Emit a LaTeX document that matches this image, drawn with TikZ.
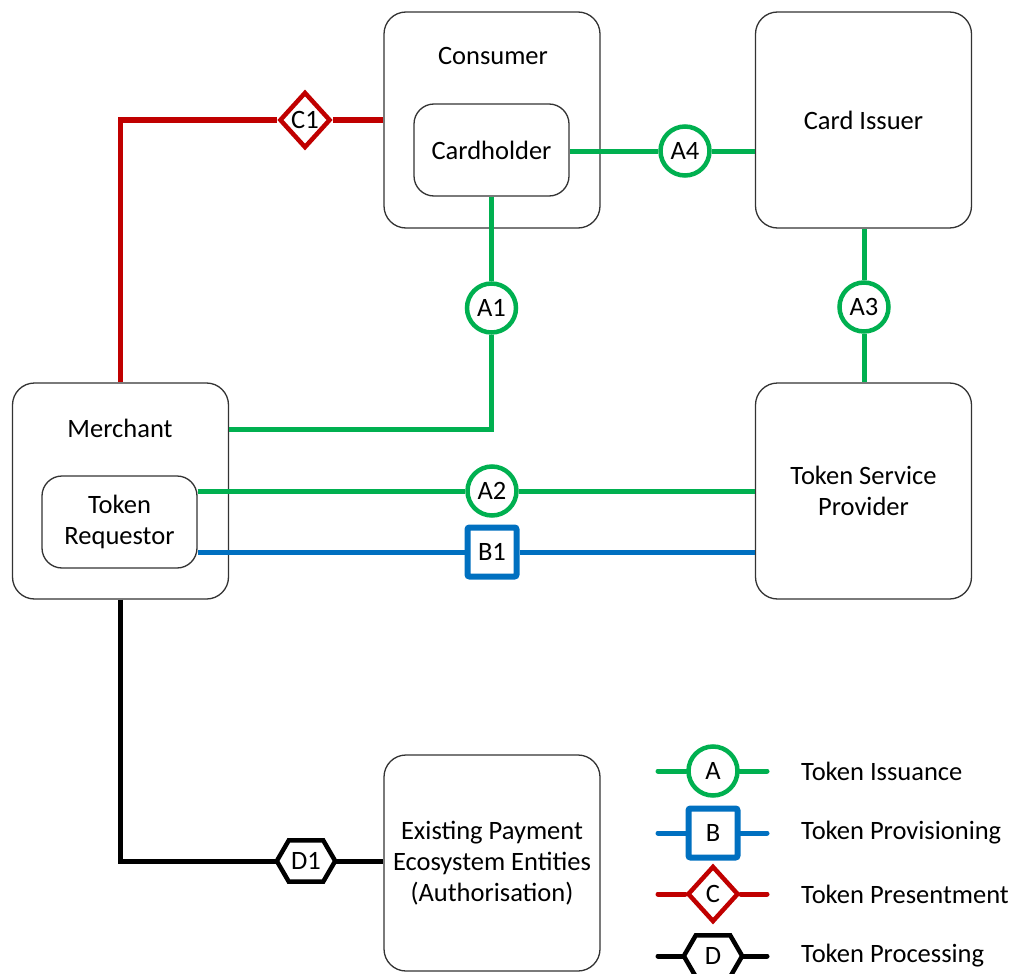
\documentclass[tikz,border=0pt]{standalone}
\usepackage{fontspec}
\setmainfont{Carlito}
\usetikzlibrary{shapes.geometric,calc}
\definecolor{tgreen}{HTML}{00B050}
\definecolor{tblue}{HTML}{0070C0}
\definecolor{tred}{HTML}{C00000}
\begin{document}
\begin{tikzpicture}[x=1pt,y=-1pt,
 font=\fontsize{26.5}{31}\selectfont,
 box/.style={draw=black!80,line width=1.3pt,rounded corners=22pt,fill=white,align=center,inner sep=0pt},
 big/.style={box,minimum width=216pt,minimum height=216pt},
 innerbox/.style={box,minimum width=155pt,minimum height=92pt,rounded corners=20pt},
 lbl/.style={inner sep=0pt,align=center},
 conn/.style={line width=5pt},
 leg/.style={line width=5pt,line cap=round},
 mcirc/.style={circle,draw=tgreen,line width=4.5pt,minimum size=49pt,inner sep=0pt,fill=white},
 msq/.style={rectangle,draw=tblue,line width=6pt,minimum size=49pt,inner sep=0pt,rounded corners=2pt,fill=white},
 mdia/.style={diamond,draw=tred,line width=4.5pt,minimum width=51pt,minimum height=56pt,inner sep=0pt,fill=white},
 mhex/.style={minimum width=58pt,minimum height=41pt,inner sep=0pt},
 hexline/.style={draw=black,line width=4.5pt,fill=white,line join=miter}
]
\useasboundingbox (0,0) rectangle (1013,974);

% boxes
\node[big] (consumer) at (492,120) {};
\node[lbl] (consumerlbl) at (493,56) {Consumer};
\node[innerbox] (cardholder) at (491.5,150) {Cardholder};
\node[big] (issuer) at (863.5,120) {Card Issuer};
\node[big] (merchant) at (120.5,491) {};
\node[lbl] (merchantlbl) at (120,428) {Merchant};
\node[innerbox] (requestor) at (119.5,522) {Token\\Requestor};
\node[big] (tsp) at (863.5,491) {Token Service\\Provider};
\node[big] (epe) at (492,863) {Existing Payment\\Ecosystem Entities\\(Authorisation)};

% markers
\node[mdia] (c1) at (305,120) {C1};
\node[mcirc] (a4) at (685,151) {A4};
\node[mcirc] (a1) at (491.5,308) {A1};
\node[mcirc] (a3) at (864,307) {A3};
\node[mcirc] (a2) at (492,491) {A2};
\node[msq] (b1) at (492,552) {B1};
\node[mhex] (d1) at (306,861) {};
\draw[hexline] (d1.west) -- ($(d1.north west)+(12,0)$) -- ($(d1.north east)+(-12,0)$) -- (d1.east) -- ($(d1.south east)+(-12,0)$) -- ($(d1.south west)+(12,0)$) -- cycle;
\node[lbl] (d1lbl) at (d1) {D1};

\coordinate (mA) at (0,429);

% connectors
\draw[conn,tred] (merchant.north) |- (c1.west);
\draw[conn,tred] (c1.east) -- (c1 -| consumer.west);
\draw[conn,tgreen] (cardholder.east |- a4) -- (a4.west);
\draw[conn,tgreen] (a4.east) -- (a4 -| issuer.west);
\draw[conn,tgreen] (cardholder.south) -- (a1.north);
\draw[conn,tgreen] (a1.south) |- (merchant.east |- mA);
\draw[conn,tgreen] (issuer.south -| a3) -- (a3.north);
\draw[conn,tgreen] (a3.south) -- (a3 |- tsp.north);
\draw[conn,tgreen] (requestor.east |- a2) -- (a2.west);
\draw[conn,tgreen] (a2.east) -- (a2 -| tsp.west);
\draw[conn,tblue] (requestor.east |- b1) -- (b1.west);
\draw[conn,tblue] (b1.east) -- (b1 -| tsp.west);
\draw[conn,black] (merchant.south) |- (d1.west);
\draw[conn,black] (d1.east) -- (d1 -| epe.west);

% legend
\coordinate (laL) at (658,771); \coordinate (laR) at (767,771);
\coordinate (lbL) at (658,833); \coordinate (lbR) at (767,833);
\coordinate (lcL) at (658,894); \coordinate (lcR) at (767,894);
\coordinate (ldL) at (658,956); \coordinate (ldR) at (767,956);
\node[mcirc] (la) at (713,771) {A};
\node[msq] (lb) at (713,833) {B};
\node[mdia] (lc) at (713,894) {C};
\node[mhex] (ld) at (713,956) {};
\draw[hexline] (ld.west) -- ($(ld.north west)+(12,0)$) -- ($(ld.north east)+(-12,0)$) -- (ld.east) -- ($(ld.south east)+(-12,0)$) -- ($(ld.south west)+(12,0)$) -- cycle;
\node[lbl] (ldlbl) at (ld) {D};
\draw[leg,tgreen] (laL) -- (la.west); \draw[leg,tgreen] (la.east) -- (laR);
\draw[leg,tblue] (lbL) -- (lb.west); \draw[leg,tblue] (lb.east) -- (lbR);
\draw[leg,tred] (lcL) -- (lc.west); \draw[leg,tred] (lc.east) -- (lcR);
\draw[leg,black] (ldL) -- (ld.west); \draw[leg,black] (ld.east) -- (ldR);
\node[lbl,anchor=west] (ta) at (801,771) {Token Issuance};
\node[lbl,anchor=west] (tb) at (801,833) {Token Provisioning};
\node[lbl,anchor=west] (tc) at (801,894) {Token Presentment};
\node[lbl,anchor=west] (td) at (801,956) {Token Processing};
\end{tikzpicture}
\end{document}
